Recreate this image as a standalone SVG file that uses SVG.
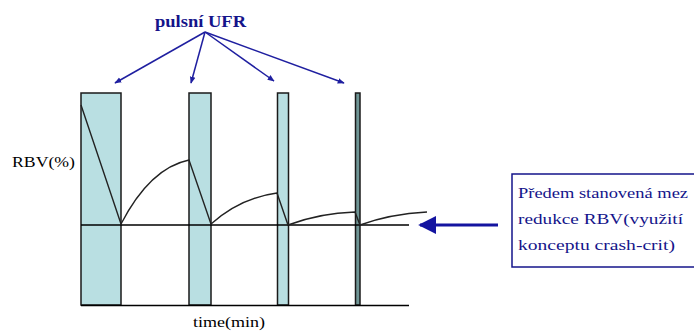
<svg xmlns="http://www.w3.org/2000/svg" width="694" height="332" viewBox="0 0 694 332">
<style>
.bar{fill:#b9dfe2;stroke:#1a1a1a;stroke-width:1.5}
.bar4{fill:#6f9595;stroke:#1a1a1a;stroke-width:1.5}
.ax{stroke:#000;stroke-width:1.5;fill:none}
.cv{stroke:#222;stroke-width:1.4;fill:none}
.blue{stroke:#1f1fa0;stroke-width:1.5;fill:none}
.lbl{font-family:'Liberation Serif','DejaVu Serif',serif;fill:#000}
.bt{font-family:'Liberation Serif','DejaVu Serif',serif;fill:#14148a}
</style>
<defs>
<marker id="ah" viewBox="0 0 10 10" refX="9" refY="5" markerWidth="7" markerHeight="7" orient="auto" markerUnits="userSpaceOnUse">
<path d="M0,1 L10,5 L0,9 z" fill="#1f1fa0"/>
</marker>
<marker id="ah2" viewBox="0 0 10 10" refX="9" refY="5" markerWidth="6" markerHeight="6" orient="auto">
<path d="M0,0 L10,5 L0,10 z" fill="#1414a0"/>
</marker>
</defs>
<g id="bars">
<rect id="bar1" class="bar" x="81" y="93" width="40" height="212"/>
<rect id="bar2" class="bar" x="189" y="93" width="22" height="212"/>
<rect id="bar3" class="bar" x="277.5" y="93" width="11" height="212"/>
<rect id="bar4" class="bar4" x="355.5" y="93" width="4.5" height="212"/>
</g>
<g id="axes">
<line class="ax" x1="81" y1="225" x2="409" y2="225"/>
<line class="ax" x1="81" y1="305.5" x2="409" y2="305.5"/>
</g>
<g id="curve">
<path class="cv" d="M81,105 L121,224 Q150,168 189,160 L211,224 Q240,198 277,193 L288,225 Q320,213 355,212 L360,225 Q390,214 427,212"/>
</g>
<g id="labels">
<text class="lbl" font-family="Liberation Serif, DejaVu Serif, serif" x="12" y="167" font-size="15" textLength="63" lengthAdjust="spacingAndGlyphs">RBV(%)</text>
<text class="lbl" font-family="Liberation Serif, DejaVu Serif, serif" x="193" y="327" font-size="15" textLength="72" lengthAdjust="spacingAndGlyphs">time(min)</text>
</g>
<g id="pulsni">
<text class="bt" font-family="Liberation Serif, DejaVu Serif, serif" x="155" y="27" font-size="16" font-weight="bold" textLength="91" lengthAdjust="spacingAndGlyphs">pulsní UFR</text>
</g>
<g id="connectors">
<line class="blue" x1="205" y1="32" x2="115" y2="83" marker-end="url(#ah)"/>
<line class="blue" x1="205" y1="32" x2="191" y2="83" marker-end="url(#ah)"/>
<line class="blue" x1="205" y1="32" x2="274" y2="81" marker-end="url(#ah)"/>
<line class="blue" x1="205" y1="32" x2="344" y2="83" marker-end="url(#ah)"/>
<line x1="498" y1="225" x2="420" y2="225" stroke="#1414a0" stroke-width="3" marker-end="url(#ah2)"/>
</g>
<g id="limitbox">
<rect x="512" y="174" width="190" height="93" fill="#fff" stroke="#14148a" stroke-width="1.5"/>
<text class="bt" font-family="Liberation Serif, DejaVu Serif, serif" x="518" y="198" font-size="15" textLength="170" lengthAdjust="spacingAndGlyphs">Předem stanovená mez</text>
<text class="bt" font-family="Liberation Serif, DejaVu Serif, serif" x="518" y="224" font-size="15" textLength="165" lengthAdjust="spacingAndGlyphs">redukce RBV(využití</text>
<text class="bt" font-family="Liberation Serif, DejaVu Serif, serif" x="518" y="250" font-size="15" textLength="157" lengthAdjust="spacingAndGlyphs">konceptu crash-crit)</text>
</g>
</svg>
